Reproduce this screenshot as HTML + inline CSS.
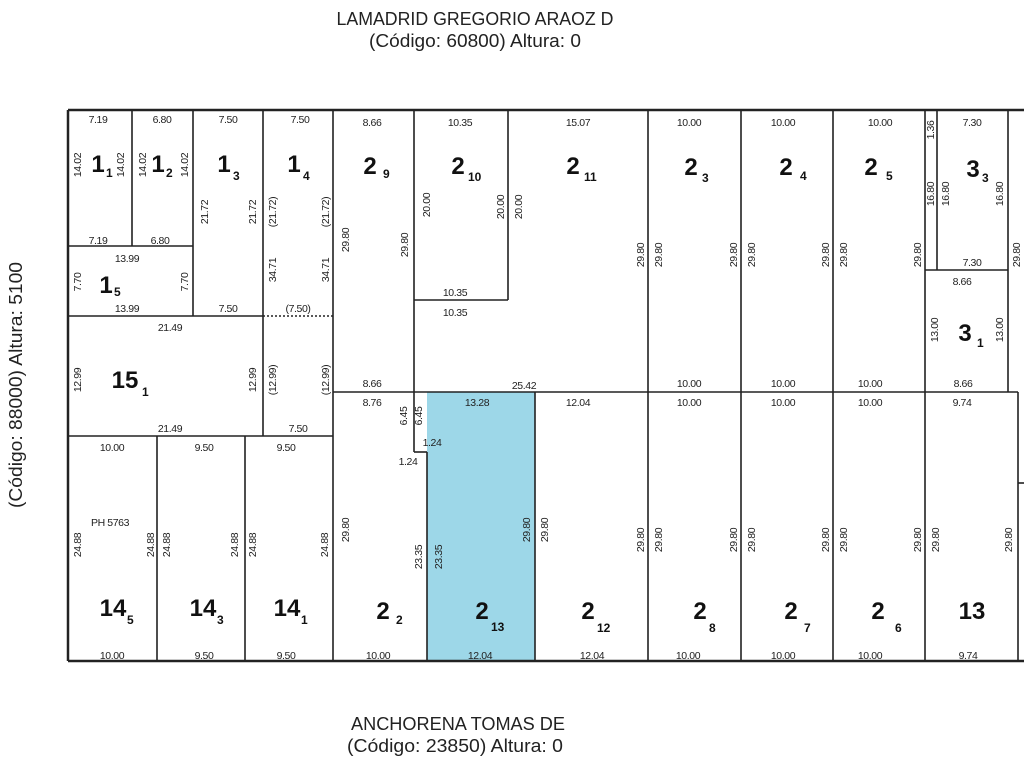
<!DOCTYPE html>
<html><head><meta charset="utf-8"><style>
html,body{margin:0;padding:0;background:#fff;width:1024px;height:768px;overflow:hidden}
svg{display:block}
text{font-family:"Liberation Sans Narrow","Liberation Sans",sans-serif;fill:#222}
.d{font-size:10.5px;text-anchor:middle;letter-spacing:-0.4px}
.b{font-size:24px;font-weight:bold;text-anchor:middle;fill:#111}
.s{font-size:12px;font-weight:bold;fill:#111}
.st{font-size:18px;text-anchor:middle;fill:#222}
</style></head><body>
<svg width="1024" height="768" viewBox="0 0 1024 768">
<rect x="427" y="392" width="108" height="269" fill="#9dd7e8"/>
<g stroke="#222" stroke-width="1.6" fill="none">
<line x1="68" y1="110" x2="1024" y2="110" stroke-width="2.5"/>
<line x1="68" y1="661" x2="1024" y2="661" stroke-width="2.5"/>
<line x1="68" y1="110" x2="68" y2="661" stroke-width="2.5"/>
<line x1="132" y1="110" x2="132" y2="246"/>
<line x1="193" y1="110" x2="193" y2="316"/>
<line x1="263" y1="110" x2="263" y2="436"/>
<line x1="333" y1="110" x2="333" y2="661"/>
<line x1="414" y1="110" x2="414" y2="452"/>
<line x1="414" y1="452" x2="427" y2="452"/>
<line x1="427" y1="452" x2="427" y2="661"/>
<line x1="535" y1="392" x2="535" y2="661"/>
<line x1="508" y1="110" x2="508" y2="300"/>
<line x1="414" y1="300" x2="508" y2="300"/>
<line x1="648" y1="110" x2="648" y2="661"/>
<line x1="741" y1="110" x2="741" y2="661"/>
<line x1="833" y1="110" x2="833" y2="661"/>
<line x1="925" y1="110" x2="925" y2="661"/>
<line x1="937" y1="110" x2="937" y2="270"/>
<line x1="925" y1="270" x2="1008" y2="270"/>
<line x1="1008" y1="110" x2="1008" y2="392"/>
<line x1="1018" y1="392" x2="1018" y2="661"/>
<line x1="1018" y1="483" x2="1024" y2="483"/>
<line x1="68" y1="246" x2="193" y2="246"/>
<line x1="68" y1="316" x2="263" y2="316"/>
<line x1="263" y1="316" x2="333" y2="316" stroke-dasharray="2,2"/>
<line x1="333" y1="392" x2="1018" y2="392"/>
<line x1="68" y1="436" x2="333" y2="436"/>
<line x1="157" y1="436" x2="157" y2="661"/>
<line x1="245" y1="436" x2="245" y2="661"/>
</g>
<text class="st" x="475" y="25" textLength="277" lengthAdjust="spacingAndGlyphs">LAMADRID GREGORIO ARAOZ D</text>
<text class="st" x="475" y="47" textLength="212" lengthAdjust="spacingAndGlyphs">(Código: 60800) Altura: 0</text>
<text class="st" x="458" y="730" textLength="214" lengthAdjust="spacingAndGlyphs">ANCHORENA TOMAS DE</text>
<text class="st" x="455" y="752" textLength="216" lengthAdjust="spacingAndGlyphs">(Código: 23850) Altura: 0</text>
<text class="st" transform="rotate(-90 22 385)" x="22" y="385" textLength="246" lengthAdjust="spacingAndGlyphs">(Código: 88000) Altura: 5100</text>
<text class="b" x="98" y="172">1</text><text class="s" x="106" y="177">1</text>
<text class="b" x="158" y="172">1</text><text class="s" x="166" y="177">2</text>
<text class="b" x="224" y="172">1</text><text class="s" x="233" y="180">3</text>
<text class="b" x="294" y="172">1</text><text class="s" x="303" y="180">4</text>
<text class="b" x="370" y="174">2</text><text class="s" x="383" y="178">9</text>
<text class="b" x="458" y="174">2</text><text class="s" x="468" y="181">10</text>
<text class="b" x="573" y="174">2</text><text class="s" x="584" y="181">11</text>
<text class="b" x="691" y="175">2</text><text class="s" x="702" y="182">3</text>
<text class="b" x="786" y="175">2</text><text class="s" x="800" y="180">4</text>
<text class="b" x="871" y="175">2</text><text class="s" x="886" y="180">5</text>
<text class="b" x="973" y="177">3</text><text class="s" x="982" y="182">3</text>
<text class="b" x="106" y="293">1</text><text class="s" x="114" y="296">5</text>
<text class="b" x="125" y="388">15</text><text class="s" x="142" y="396">1</text>
<text class="b" x="965" y="341">3</text><text class="s" x="977" y="347">1</text>
<text class="b" x="113" y="616">14</text><text class="s" x="127" y="624">5</text>
<text class="b" x="203" y="616">14</text><text class="s" x="217" y="624">3</text>
<text class="b" x="287" y="616">14</text><text class="s" x="301" y="624">1</text>
<text class="b" x="383" y="619">2</text><text class="s" x="396" y="624">2</text>
<text class="b" x="482" y="619">2</text><text class="s" x="491" y="631">13</text>
<text class="b" x="588" y="619">2</text><text class="s" x="597" y="632">12</text>
<text class="b" x="700" y="619">2</text><text class="s" x="709" y="632">8</text>
<text class="b" x="791" y="619">2</text><text class="s" x="804" y="632">7</text>
<text class="b" x="878" y="619">2</text><text class="s" x="895" y="632">6</text>
<text class="b" x="972" y="619">13</text>
<g class="d">
<text x="98" y="123">7.19</text><text x="162" y="123">6.80</text><text x="228" y="123">7.50</text><text x="300" y="123">7.50</text>
<text x="372" y="126">8.66</text><text x="460" y="126">10.35</text><text x="578" y="126">15.07</text><text x="689" y="126">10.00</text><text x="783" y="126">10.00</text><text x="880" y="126">10.00</text><text x="972" y="126">7.30</text>
<text x="98" y="244">7.19</text><text x="160" y="244">6.80</text><text x="127" y="262">13.99</text><text x="127" y="312">13.99</text><text x="228" y="312">7.50</text><text x="298" y="312">(7.50)</text>
<text x="170" y="331">21.49</text><text x="170" y="432">21.49</text><text x="298" y="432">7.50</text>
<text x="372" y="387">8.66</text><text x="372" y="406">8.76</text><text x="455" y="296">10.35</text><text x="455" y="316">10.35</text><text x="524" y="389">25.42</text>
<text x="689" y="387">10.00</text><text x="783" y="387">10.00</text><text x="870" y="387">10.00</text><text x="963" y="387">8.66</text>
<text x="972" y="266">7.30</text><text x="962" y="285">8.66</text>
<text x="477" y="406">13.28</text><text x="578" y="406">12.04</text><text x="689" y="406">10.00</text><text x="783" y="406">10.00</text><text x="870" y="406">10.00</text><text x="962" y="406">9.74</text>
<text x="432" y="446">1.24</text><text x="408" y="465">1.24</text>
<text x="112" y="451">10.00</text><text x="204" y="451">9.50</text><text x="286" y="451">9.50</text><text x="110" y="526">PH 5763</text>
<text x="112" y="659">10.00</text><text x="204" y="659">9.50</text><text x="286" y="659">9.50</text><text x="378" y="659">10.00</text><text x="480" y="659">12.04</text><text x="592" y="659">12.04</text><text x="688" y="659">10.00</text><text x="783" y="659">10.00</text><text x="870" y="659">10.00</text><text x="968" y="659">9.74</text>
</g>
<g class="d">
<text transform="rotate(-90 81 165)" x="81" y="165">14.02</text>
<text transform="rotate(-90 124 165)" x="124" y="165">14.02</text>
<text transform="rotate(-90 146 165)" x="146" y="165">14.02</text>
<text transform="rotate(-90 188 165)" x="188" y="165">14.02</text>
<text transform="rotate(-90 208 212)" x="208" y="212">21.72</text>
<text transform="rotate(-90 256 212)" x="256" y="212">21.72</text>
<text transform="rotate(-90 276 212)" x="276" y="212">(21.72)</text>
<text transform="rotate(-90 329 212)" x="329" y="212">(21.72)</text>
<text transform="rotate(-90 276 270)" x="276" y="270">34.71</text>
<text transform="rotate(-90 329 270)" x="329" y="270">34.71</text>
<text transform="rotate(-90 349 240)" x="349" y="240">29.80</text>
<text transform="rotate(-90 408 245)" x="408" y="245">29.80</text>
<text transform="rotate(-90 430 205)" x="430" y="205">20.00</text>
<text transform="rotate(-90 504 207)" x="504" y="207">20.00</text>
<text transform="rotate(-90 522 207)" x="522" y="207">20.00</text>
<text transform="rotate(-90 644 255)" x="644" y="255">29.80</text>
<text transform="rotate(-90 662 255)" x="662" y="255">29.80</text>
<text transform="rotate(-90 737 255)" x="737" y="255">29.80</text>
<text transform="rotate(-90 755 255)" x="755" y="255">29.80</text>
<text transform="rotate(-90 829 255)" x="829" y="255">29.80</text>
<text transform="rotate(-90 847 255)" x="847" y="255">29.80</text>
<text transform="rotate(-90 921 255)" x="921" y="255">29.80</text>
<text transform="rotate(-90 1020 255)" x="1020" y="255">29.80</text>
<text transform="rotate(-90 934 130)" x="934" y="130">1.36</text>
<text transform="rotate(-90 934 194)" x="934" y="194">16.80</text>
<text transform="rotate(-90 949 194)" x="949" y="194">16.80</text>
<text transform="rotate(-90 1003 194)" x="1003" y="194">16.80</text>
<text transform="rotate(-90 81 282)" x="81" y="282">7.70</text>
<text transform="rotate(-90 188 282)" x="188" y="282">7.70</text>
<text transform="rotate(-90 81 380)" x="81" y="380">12.99</text>
<text transform="rotate(-90 256 380)" x="256" y="380">12.99</text>
<text transform="rotate(-90 276 380)" x="276" y="380">(12.99)</text>
<text transform="rotate(-90 329 380)" x="329" y="380">(12.99)</text>
<text transform="rotate(-90 938 330)" x="938" y="330">13.00</text>
<text transform="rotate(-90 1003 330)" x="1003" y="330">13.00</text>
<text transform="rotate(-90 407 416)" x="407" y="416">6.45</text>
<text transform="rotate(-90 422 416)" x="422" y="416">6.45</text>
<text transform="rotate(-90 81 545)" x="81" y="545">24.88</text>
<text transform="rotate(-90 154 545)" x="154" y="545">24.88</text>
<text transform="rotate(-90 170 545)" x="170" y="545">24.88</text>
<text transform="rotate(-90 238 545)" x="238" y="545">24.88</text>
<text transform="rotate(-90 256 545)" x="256" y="545">24.88</text>
<text transform="rotate(-90 328 545)" x="328" y="545">24.88</text>
<text transform="rotate(-90 349 530)" x="349" y="530">29.80</text>
<text transform="rotate(-90 422 557)" x="422" y="557">23.35</text>
<text transform="rotate(-90 442 557)" x="442" y="557">23.35</text>
<text transform="rotate(-90 530 530)" x="530" y="530">29.80</text>
<text transform="rotate(-90 548 530)" x="548" y="530">29.80</text>
<text transform="rotate(-90 644 540)" x="644" y="540">29.80</text>
<text transform="rotate(-90 662 540)" x="662" y="540">29.80</text>
<text transform="rotate(-90 737 540)" x="737" y="540">29.80</text>
<text transform="rotate(-90 755 540)" x="755" y="540">29.80</text>
<text transform="rotate(-90 829 540)" x="829" y="540">29.80</text>
<text transform="rotate(-90 847 540)" x="847" y="540">29.80</text>
<text transform="rotate(-90 921 540)" x="921" y="540">29.80</text>
<text transform="rotate(-90 939 540)" x="939" y="540">29.80</text>
<text transform="rotate(-90 1012 540)" x="1012" y="540">29.80</text>
</g>
</svg>
</body></html>
